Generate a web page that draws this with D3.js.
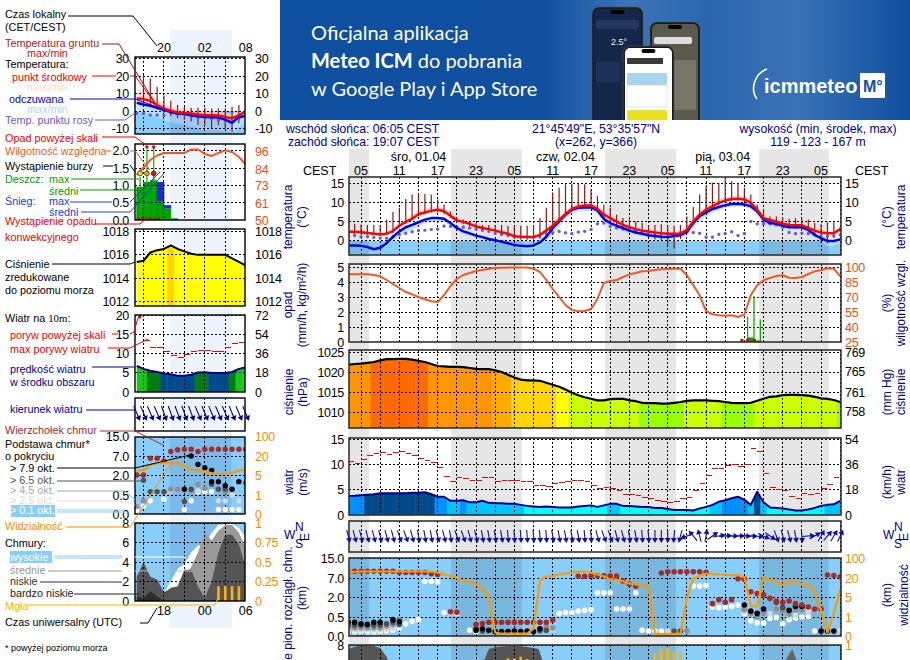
<!DOCTYPE html>
<html>
<head>
<meta charset="utf-8">
<script src="https://cdn.jsdelivr.net/npm/d3@7"></script>
<style>
html,body{margin:0;padding:0;background:#fff;overflow:hidden}
svg{display:block}
text{font-family:"Liberation Sans",Arial,sans-serif;font-size:12px}
.tick text{font-size:12.5px;fill:#000;letter-spacing:-.3px}
</style>
</head>
<body>
<div id="chart"></div>
<script>
// ---- right meteogram, hourly values, hours counted from 01.04 00:00 local
const hours = d3.range(3,81)
const tempMid = [2.4,2.4,2.3,2.1,1.9,1.7,1.9,2.6,4,5,5.8,7,7.5,7.9,8.2,7.8,6.6,5.4,5,4.5,3.8,3.4,3.1,2.7,2.3,1.9,1.2,1.1,1,1,1.6,2.7,4,5.5,7,8.4,9,9.3,9.3,8.4,6.9,6,5.1,4.2,3.6,3.1,2.7,2.5,2.2,2,1.9,1.9,1.9,2.9,5.1,6.9,8.2,9.1,10,10.6,11,11.1,10.9,10,8.2,6,5.5,5.1,4.5,4.2,4.1,4.1,3.4,2.7,2.2,2,2,3.1]
const tempFeels = [-1.2,-1.2,-1.3,-1.6,-2.2,-1.8,-.6,1.1,2.5,3.6,4.2,4.9,5.6,6,6,5.8,4.7,3.4,2.5,2,1.4,1,.5,.2,-.2,-.6,-1.1,-1.3,-1.4,-1.2,-.4,1.1,3.4,5.1,6.9,8.2,8.7,8.8,8.8,8,5.8,4.7,4,3.4,2.7,2.2,1.9,1.5,1.3,1.1,1,1.3,1.5,2.4,4.7,6.5,7.5,8.4,8.9,9.4,9.7,9.8,9.6,9.1,7.8,5.6,4.7,4.5,4,3.6,3.6,3.6,2.9,1.6,.7,0,0,.4]
const tempSpreadUp = [.3,.3,.3,.3,.3,.3,.4,.5,.7,.9,1,1,1,1,.9,.8,.8,.7,.6,.5,.4,.4,.3,.3,.3,.3,.3,.3,.3,.3,.3,.5,.7,.9,1,1,1,.9,.9,.8,.7,.6,.5,.4,.4,.3,.3,.3,.3,.3,.3,.3,.3,.4,.6,.8,.9,1,1,.9,.9,.9,.9,.8,.7,.5,.4,.4,.4,.3,.3,.3,.3,.3,.3,.3,.3,.4]
const tempSpreadDown = [.4,.4,.4,.4,.4,.4,.8,1,1.2,1.4,1.4,1.2,1,1,.9,.8,.8,.8,.8,.7,.7,.6,.6,.6,.6,.6,.6,.6,.6,.7,1,1.4,1.6,1.6,1.4,1.2,1,1,1,1,1,.9,.9,.8,.8,.7,.7,.7,.7,.7,.7,.6,.6,1,1.4,1.4,1.2,1,.9,.8,.7,.7,.7,.8,1,1,.9,.9,.8,.8,.7,.7,.8,1,1.2,1.4,1.3,1.1]
const dewPoint = [1.4,1.4,1.1,1.1,.9,.7,.7,1,1.6,2,2.4,2.7,2.8,3,3.1,3.9,3.8,3.6,3.6,3.4,3.1,2.8,2.5,2,1.7,1.4,1.2,1,1.1,1,1,1.7,2.1,2.5,2.1,1.9,2.3,2.5,3,4.5,4.7,3.8,3.4,3.1,2.7,2.5,2.5,2.2,2.2,2,2,1.9,2.2,2.4,2.2,2,1,1,1.7,1.9,2.4,1.4,1.9,5.1,4.5,4.5,4.5,4.2,3.6,2.2,1.9,2,1.9,1.6,1.2,1.2,1.3,1.6]
const groundMax = [4.5,4.5,4.3,4.2,4.2,4.2,5.6,7.6,8.7,11,12.2,12.5,12.3,12.2,10.9,9.6,7.8,6,5.6,5,4.7,4.2,4.2,4.2,4.2,3.9,3.8,4,4,4,6,8.7,12.7,14,14.9,14.9,15.3,14.9,13.6,11.8,9.6,8.7,6.9,6,5.6,5.1,4.7,4,4.2,4.4,4,4,4.2,6.4,8.9,12.2,14.4,15.3,15.3,16.6,15.7,15.3,14,12.2,9.6,8.4,6.4,6.4,6,5.8,6,5.8,5.6,4.7,4.4,4.9,4.9,3.8]
const groundMin = [1.8,1.8,1.8,1.6,1.4,1.2,1.5,2,3.5,4.5,5.5,6.5,7,7.5,7.5,7,6,5,4.4,3.8,3,2.5,2.2,1.8,1.4,1,.6,.4,.3,.3,1,2,3.4,5,6.5,7.8,8.5,8.7,8.7,7.8,6,5,4,3.4,2.6,2,1.5,.8,.4,.2,-1,-2,.5,2,4.5,6.4,7.6,8.6,9.4,10,10.4,10.6,10.3,9.4,7.6,5,4.6,4.2,3.6,3.4,3.2,3.2,2.6,1.6,-.5,-.6,.8,2.5]
const humidity = [92.7,92.7,92.7,92.7,92,90.7,87,83,79,75,72.7,70,67.7,65.7,65,72,81,88,92,94,96,97,98.3,99,99.3,99.5,99.5,99.5,99.5,98.3,95,87,78,70,62,57,55.7,56,58,68,84,86,87,90,92.7,94,95.7,96,97,97.7,98,98.3,98.3,91.7,81.7,71.7,56,52.7,51.7,51.3,51.7,50,52.7,71.7,81.7,86.7,89,91,91.7,89.3,89,90,93,95.7,96.7,98.7,98.3,90.7]
const rainHours = [65.5,66.5,67.5]
const rainMax = [1.7,3.07,1.5]
const rainMeanHours = [66,67]
const rainMean = [.3,.1]
const convectiveHours = [64.6,65.5,66.6]
const pressure = [1021.8,1022,1022.1,1022.3,1022.5,1022.9,1023.2,1023.2,1023.3,1023.3,1023.1,1022.8,1022.5,1022,1021.5,1021.4,1021.3,1021.3,1021.2,1021,1020.8,1020.7,1020.7,1020.4,1020,1019.3,1018.6,1018.1,1017.9,1017.9,1017.8,1017.3,1016.8,1016.3,1015.6,1014.8,1014.2,1013.7,1013.3,1012.9,1012.9,1013.2,1013.3,1013.3,1012.9,1012.7,1012.3,1012.2,1012.2,1012.1,1012.1,1012.3,1012.5,1012.8,1012.9,1012.9,1012.9,1012.8,1012.7,1012.5,1012.3,1012.2,1012.2,1012.3,1012.8,1013.3,1013.8,1013.9,1014.2,1014.3,1014.3,1014.2,1014.1,1013.8,1013.4,1013.3,1013,1012.5]
const windSpeed = [3.75,3.8,3.9,4,4.1,4.3,4.3,4.3,4.3,4.3,4.4,4.4,4.5,4.1,3.6,3.6,2.8,2.8,2.9,2.5,2.5,2.8,2.4,2.3,2.3,2.2,2.2,2,1.8,1.7,1.6,1.7,1.6,1.5,1.5,1.5,1.7,1.8,1.9,1.6,1.9,2.2,2.2,1.8,1.8,1.7,1.6,1.6,1.4,1.4,1.2,1,1,1,.9,1.3,1.6,2,2.6,2.9,3.3,3.6,3,2,4.6,2.5,1.5,1.4,1.3,1.1,.9,.9,1.1,1.4,1.8,2,2.1,2.8]
const windGust = [10.5,10.1,11,11.8,12.2,12.4,12,12.3,12.6,12.2,11.8,11.1,10.7,10.4,9.3,7.6,6.6,7.4,7.2,6.8,6.8,7.4,7.4,6.6,6.8,6.8,6.8,6.6,6.6,5.9,5.9,5.6,6.2,6.5,6.7,6.8,6.8,6.6,5.9,5.3,5.4,5.3,4.9,4.1,4.1,3.9,3.4,3.2,2.8,2.6,2.4,2.6,3.3,3.5,4.9,6.3,7.7,9.1,9.2,9.7,9.9,9.5,10,13.2,12.6,8.2,5.5,5.1,4.9,3.7,3.3,4.3,4.1,4.3,5.3,6.1,7.4]
const windBearing = [165,165,165,165,165,165,165,165,160,160,165,170,170,170,165,165,170,160,160,165,165,170,170,170,170,175,175,175,175,175,175,175,170,170,170,170,170,175,175,165,160,160,165,165,170,170,175,175,180,180,180,185,195,250,320,345,10,55,80,85,90,88,92,95,100,115,125,160,165,165,170,175,85,60,30,40,30,25]
const cloudTopHours = [3,4,5,6,7,8,9,10,11,12,13,14,15,16,17,19,20,23,24,25,26,27,28,29,30,31,32,33,34,35,39,40,41,42,43,44,45,46,47,48,52,53,54,55,56,57,58,59,60,61,62,63,64,65,66,67,68,69,70,71,72,73,74,75,76,77,78,79,80]
const cloudTop = [9.3,9.7,9.7,9.7,9.7,9.7,9.7,9.7,9.2,9.2,9.2,9.2,9.2,8.7,8.4,.89,.85,.31,.33,.36,.36,.36,.36,.36,.36,.36,.36,.36,.36,.42,7.7,7.7,7.8,7.9,7.9,7.8,7.8,6.2,5.4,4.9,9,9.5,9.5,9.5,9.5,9.5,9.5,9.3,1.5,1.8,1.6,1.8,6.8,6.7,3.4,2.9,2.6,1.9,1.7,1.6,1.7,1.5,1.4,1.25,1.1,1.1,8.2,8,7.5]
const baseBlack = [[3,.36],[4,.36],[5,.32],[6,.31],[7,.36],[8,.36],[10,.43],[11,.38],[23,.15],[24,.19],[25,.15],[26,.12],[27,.12],[28,.12],[29,.13],[30,.12],[31,.13],[32,.12],[33,.19],[65,1.4],[66,.94],[67,.77],[68,1.1],[72,1],[73,1.3],[74,1.3],[77,.13],[78,.13],[79,.13]]
const baseDark = [[3,.28],[4,.28],[5,.28],[6,.28],[7,.28],[8,.28],[9,.32],[10,.36],[11,.3],[23,.19],[24,.13],[54,.13],[55,.13],[70,1.6],[71,1.2],[33,.14],[34,.15]]
const baseGrey = [[3,.21],[4,.21],[5,.21],[6,.21],[7,.21],[8,.21],[9,.26],[10,.3],[11,.43],[34,.24],[35,.21],[56,.13],[65,1.05],[66,.75],[67,.5],[68,.8],[70,1.1],[73,1.05],[74,1.1],[71,.95],[72,.7]]
const baseLight = [[3,.16],[4,.16],[5,.16],[6,.16],[7,.16],[8,.16],[9,.18],[10,.2],[53,.13],[69,.75],[72,.55],[75,1.05],[75,.8],[35,.17],[65,.9],[73,.65],[80,.15]]
const baseWhite = [[3,.11],[4,.11],[5,.11],[6,.11],[7,.11],[8,.11],[9,.13],[10,.15],[11,.21],[12,.32],[13,.39],[14,.43],[15,6.15],[16,6.15],[17,6],[18,.84],[19,.84],[20,.77],[22,.15],[23,.12],[36,.77],[37,.84],[38,.84],[39,.94],[40,1],[41,1.05],[42,3.1],[43,3.1],[44,3.1],[45,1.1],[46,1.1],[47,1.1],[48,3.1],[49,.15],[50,.13],[51,.13],[52,.13],[57,4.9],[58,4.9],[59,5.1],[60,1.25],[61,1.2],[62,1.25],[63,1.3],[64,1.4],[65,.77],[66,.4],[67,.35],[68,.34],[69,.46],[70,.49],[71,.32],[72,.43],[73,.47],[74,.5],[75,.55],[76,.13]]
const visibility = [42,45,46,46,46,46,46,46,46,46,46,46,46,45,42,34,28,21,17.7,17,15.4,11.9,5,.18,.12,.12,.12,.12,.12,.39,18,27,28,34,38,43,45,45,42,34,27,18.7,18.7,17.5,15.7,15,14,13.6,.12,.1,.1,.1,.12,4.8,19.5,28,38,36,34,33,31,31,24,3.3,3.1,24,18.7,17,14.4,17,17,15,14.7,9,2.3,.18,1.7,11]
const lowCloudHours = [3,4,5,6,7,8,9,9.5,23,24.4,25,26,28,30,32,32.8,33.4,71.4,72.5,73.2]
const lowCloud = [7.6,7.8,8,8,7.9,7.7,6.8,6,6,6.6,7.6,7.8,7.9,7.9,7.7,7.6,6.4,6.4,7.6,6.4]
const fogHours = [28,29,30,31,51,52,53,54,55]
const fogValues = [.83,.83,.85,.82,.9,.95,.96,.92,.92]

// ---- left, short range column
const hoursL = d3.range(16,33)
const tempMidL = [7.3,6.9,5.8,3.5,1.5,.2,-.8,-1,-1.3,-1.9,-2.3,-2.3,-2.5,-3.3,-4.2,-2.3,-.4]
const tempFeelsL = [4.8,3.8,3.1,1.9,.6,-.6,-1.3,-1.7,-2.3,-2.9,-3.3,-3.5,-3.7,-4.8,-6.7,-3.3,-2.9]
const tempSpreadUpL = [5.5,5,4,3.5,2.5,2.2,2,2.5,2.8,2.6,2.4,2.2,2.2,2.4,2.5,2,1.4]
const tempSpreadDownL = [5,5,5.1,5.5,5.6,6,5.7,6.3,6.7,7.1,7.7,7.5,7.3,6.7,5.3,6,5]
const dewPointL = [-1.3,-1.3,-2.3,-2.3,-2.5,-1,-1.7,-1.7,-3.3,-3.8,-3.7,-4.2,-5.2,-5.6,-3.7,-4.2,null]
const groundMaxL = [null,20.8,18.8,14,9,6,3.5,2.5,2,2,2,1.5,1.5,1.5,2.5,3.5,2.5]
const groundMinL = [null,5,3,1,-1,-3,-4,-5,-6,-8,-8,-10,-8,-10,-12,-7,-2]
const humidityL = [80,85,90,93,94.7,94.7,94.7,94.7,97,97,94,92.7,94.7,96.4,95.3,92,87]
const rainMaxHoursL = [16.5,17.5,18.5]
const rainMaxL = [1.25,2.05,2.1]
const rainMeanHoursL = [16,17,18,19,20,21]
const rainMeanL = [.96,1.1,1.15,.53,.33,.05]
const snowMeanL = [0,0,0,.57,.1,0]
const stormColors = ["#ffe000","#ffa500","#e81010"]
const overScaleHoursL = [17.5,18.5]
const convectiveHoursL = [16.2,16.8,17.4,18,18.6,19.2]
const pressureL = [1015.4,1015.5,1016.2,1016.4,1016.5,1016.8,1016.5,1016.3,1016.1,1016,1016,1016,1016,1016,1015.7,1015.4,1015.1]
const windSpeedL = [6.8,6,5.5,5.2,4.8,4.6,4.2,4.2,4.5,5.05,5.1,4.95,4.95,4.95,5.2,6,6.4]
const windGustL = [13.5,11.6,11.5,10.5,9.6,8.9,9.8,10.6,10.9,10.9,10.6,10.6,11.6,12.7,12.9]
const windBearingL = [157,157,157,157,160,160,160,160,160,157,157,157,157,157,157,157,157]
const cloudTopHoursL = d3.range(16,33)
const cloudTopL = [2,2,6.4,6.4,5.6,8.8,9.5,9.7,9.7,8.8,9.7,9.7,9.7,9.7,9.7,9.7,9.7]
const baseBlackL = [[24,7],[25,4.8],[26,3.9],[27,3.2],[27,1.5],[28,1.5],[29,1.2],[30,.93],[31,1.5],[23,.93]]
const baseDarkL = [[17,1.6],[18,.75],[19,.75],[20,.75],[23,.33],[24,.93],[27,1.3],[28,.93],[29,.93],[32,1.4]]
const baseGreyL = [[16,.2],[17,.35],[21,.93],[22,.93],[25,1.3],[26,1],[24,.8],[29,.75]]
const baseLightL = [[16,.21],[21,.82],[25,.82],[28,.35],[29,.35],[30,.5],[31,.35]]
const baseWhiteL = [[16,.1],[17,.21],[18,.35],[20,.39],[23,.12],[24,.35],[25,.75],[26,.75],[27,.75],[28,.12],[29,.12],[30,.12],[31,.12]]
const visibilityL = [8.6,8.6,13,14.3,14.3,14.3,14.3,12.2,9.1,8.6,7.8,6.5,5.8,5.8,6.5,8.6,9.1]
const cloudHighL = [0,0,0,0,.8,2,3.3,3.8,5,5.7,5.7,7,7.8,7.9,7.9,7.5,6.5]
const cloudMidL = [0,0,0,0,.5,1.4,1.5,2.6,3.5,5,7,6.2,7.2,7.8,7.8,7,5.5]
const cloudLowL = [2.5,4,2.5,2.2,.9,1.3,1.5,3.2,3.2,1.5,.3,2,5,6.8,6.8,5.8,3.5]
const cloudVeryLowL = [.5,.3,1,.5,0,0,0,0,0,0,0,0,0,0,0,0,0]
const fogHoursL = [28,29,30,31]
const fogValuesL = [.19,.19,.19,.19]

// ---- tick labels
const tempTicks = [0,5,10,15]
const tempTicksL = [-10,0,10,20,30]
const rainTicks = [0,1,2,3,4,5]
const rhTicks = [25,40,55,70,85,100]
const rainTicksL = [0,.5,1,1.5,2]
const rhTicksL = [50,61,73,84,96]
const pressTicks = [1010,1015,1020,1025]
const mmHgTicks = [757.6,761.3,765.1,768.8]
const pressTicksL = [1012,1014,1016,1018]
const windTicks = [0,5,10,15]
const kmhTicks = [0,18,36,54]
const windTicksL = [0,5,10,15,20]
const kmhTicksL = [0,18,36,54,72]
const baseTicks = [0,.5,2,7,15]
const visTicks = [0,1,5,20,100]
const cloudTicksL = [0,2,4,6,8]
const cloudFracTicksL = [0,.25,.5,.75,1]
const gridHours = d3.range(5,81,3)
const gridHoursL = d3.range(17,33,3)
const hourLabels = ["05","11","17","23","05","11","17","23","05","11","17","23","05"]
const hourLabelAt = d3.range(5,78,6)
const dayLabels = ["śro, 01.04","czw, 02.04","pią, 03.04"]
const dayLabelAt = [14,37,61.6]
const nightBands = [[3.12,6.25],[19.1,30.2],[43.2,54.3],[67.3,78.2]]
const nightBandL = [[20.85,29.9]]

const svg = d3.select("#chart").append("svg").attr("width",910).attr("height",660)
const defs = svg.append("defs")

// ---- shared colours for the step fills
const pressColor = d3.scaleThreshold()
	.domain([1012.6,1015,1016.7,1019,1020.6,1022.45])
	.range(["#99ff00","#ccff00","#ffff00","#ffd500","#ffaa00","#ff9500","#ff6a00"])
const windColor = d3.scaleThreshold()
	.domain([2,2.85,4,5,6])
	.range(["#00ffff","#00c4ff","#0090ff","#004a8c","#007c14","#14c814"])
const SKY = "#87cefa"
const NAVY = "#00008b"

// ---- banner
const grad = defs.append("linearGradient").attr("id","bannerGrad")
;[[0,"#0f4fa0"],[.42,"#10509f"],[.55,"#3b74b8"],[.68,"#2c66ae"],[.82,"#3a72b5"],[1,"#104f9f"]].forEach(s=>{
	grad.append("stop").attr("offset",s[0]).attr("stop-color",s[1])
})
const banner = svg.append("g")
banner.append("rect").attr("x",280).attr("y",0).attr("width",630).attr("height",120).attr("fill","url(#bannerGrad)")
const bannerClip = defs.append("clipPath").attr("id","bannerClip")
bannerClip.append("rect").attr("x",280).attr("y",0).attr("width",630).attr("height",120)
banner.attr("clip-path","url(#bannerClip)")
const bannerLine = (y)=>banner.append("text").attr("x",311).attr("y",y).style("font-family","Lato").style("font-size","20px").attr("fill","#fff")
bannerLine(40).text("Oficjalna aplikacja")
const second = bannerLine(68)
second.append("tspan").style("font-weight","700").text("Meteo ICM")
second.append("tspan").text(" do pobrania")
bannerLine(96).text("w Google Play i App Store")

function phone(x,y,w,h,screen){
	banner.append("rect").attr("x",x).attr("y",y).attr("width",w).attr("height",h).attr("rx",7).attr("fill","#1b1b1b").attr("stroke","#555").attr("stroke-width",.6)
	banner.append("rect").attr("x",x+2).attr("y",y+2).attr("width",w-4).attr("height",h-2).attr("rx",5).attr("fill",screen)
	banner.append("rect").attr("x",x+w/2-7).attr("y",y+3).attr("width",14).attr("height",4).attr("rx",2).attr("fill","#000")
}
phone(592,7,51,120,"#14264a")
phone(650,22,50,105,"#5b5a4c")
banner.append("text").attr("x",611).attr("y",45).attr("fill","#cfe").style("font-size","9px").text("2.5°")
banner.append("rect").attr("x",596).attr("y",20).attr("width",43).attr("height",9).attr("rx",2).attr("fill","#24375c")
banner.append("rect").attr("x",596).attr("y",62).attr("width",24).attr("height",20).attr("fill","#1f3157")
banner.append("rect").attr("x",654).attr("y",37).attr("width",38).attr("height",7).attr("rx",2).attr("fill","#ddd")
banner.append("rect").attr("x",672).attr("y",60).attr("width",24).attr("height",50).attr("fill","#777663")
phone(623,46,51,80,"#fff")
banner.append("rect").attr("x",627).attr("y",58).attr("width",36).attr("height",6).attr("fill","#3a3a3a")
banner.append("rect").attr("x",627).attr("y",73).attr("width",40).attr("height",12).attr("fill","#a8d4f0")
banner.append("rect").attr("x",627).attr("y",85).attr("width",40).attr("height",22).attr("fill","#fff").attr("stroke","#ccc").attr("stroke-width",.5)
banner.append("rect").attr("x",627).attr("y",110).attr("width",40).attr("height",10).attr("fill","#e8e020")
banner.append("path").attr("d","M767 69 C754 74 750 90 757 99").attr("fill","none").attr("stroke","#fff").attr("stroke-width",1.6)
banner.append("text").attr("x",764).attr("y",93).attr("fill","#fff").style("font-size","20px").style("font-weight","700").text("icmmeteo")
banner.append("rect").attr("x",860).attr("y",73).attr("width",25).attr("height",25).attr("rx",1).attr("fill","#fff")
banner.append("text").attr("x",863).attr("y",92).attr("fill","#10509f").style("font-size","16px").style("font-weight","700").text("M°")

// ---- shaded night time behind each column
svg.append("rect").attr("x",170).attr("y",30).attr("width",62).attr("height",598).attr("fill","#eef4fd")

const right = {
	x: d3.scaleLinear().domain([3.12,80.12]).range([349,841]),
	id: "r", left: 349, right: 841, padL: 5, padR: 4, bands: nightBands, shade: "rgba(0,0,0,.1)",
	dotR: 2.8, grid: gridHours, arrow: 6, frame: "#333", frameW: 1.6
}
const left = {
	x: d3.scaleLinear().domain([15.75,31.9]).range([135,245]),
	id: "l", left: 135, right: 245, padL: 6, padR: 10, bands: nightBandL, shade: "rgba(0,0,90,.09)",
	dotR: 2.7, grid: gridHoursL, arrow: 7.5, frame: "#000", frameW: 1.4
}
nightBands.forEach(b=>{
	svg.append("rect").attr("x",right.x(b[0])).attr("y",149)
		.attr("width",right.x(b[1])-right.x(b[0])).attr("height",511).attr("fill","#e6e6e6")
})

// ---- panel helpers
function panel(side,name,top,bottom){
	const clip = `${side.id}-${name}`
	defs.append("clipPath").attr("id",clip).append("rect")
		.attr("x",side.left).attr("y",top).attr("width",side.right-side.left).attr("height",bottom-top)
	const g = svg.append("g")
	const marks = g.append("g").attr("clip-path",`url(#${clip})`)
	return {g,marks,top,bottom,side}
}
function nightShade(p,y0,y1){
	p.side.bands.forEach(b=>{
		p.marks.append("rect").attr("x",p.side.x(b[0])).attr("y",y0)
			.attr("width",p.side.x(b[1])-p.side.x(b[0])).attr("height",y1-y0).attr("fill",p.side.shade)
	})
}
function grid(p,ys){
	const s = p.side
	const grp = p.marks.append("g").attr("stroke","#000").attr("stroke-width",1).attr("stroke-dasharray","2,2").attr("shape-rendering","crispEdges")
	grp.selectAll(".v").data(s.grid).enter().append("line")
		.attr("x1",d=>s.x(d)).attr("x2",d=>s.x(d)).attr("y1",p.top).attr("y2",p.bottom)
	grp.selectAll(".h").data(ys).enter().append("line")
		.attr("x1",s.left).attr("x2",s.right).attr("y1",d=>d).attr("y2",d=>d)
}
function frame(p,height){
	const s = p.side
	p.g.append("rect").attr("x",s.left).attr("y",p.top).attr("width",s.right-s.left).attr("height",height||p.bottom-p.top)
		.attr("fill","none").attr("stroke",s.frame).attr("stroke-width",s.frameW)
}
function axes(p,yL,ticksL,fmtL,yR,ticksR,fmtR,colorR){
	const s = p.side
	if(ticksL){
		const a = p.g.append("g").attr("transform",`translate(${s.left},0)`)
			.call(d3.axisLeft(yL).tickValues(ticksL).tickSize(0).tickPadding(s.padL).tickFormat(fmtL||(d=>d)))
		a.select(".domain").remove()
	}
	if(ticksR){
		const a = p.g.append("g").attr("transform",`translate(${s.right},0)`)
			.call(d3.axisRight(yR).tickValues(ticksR).tickSize(0).tickPadding(s.padR).tickFormat(fmtR||(d=>d)))
		a.select(".domain").remove()
		if(colorR) a.selectAll("text").style("fill",colorR)
	}
}
const lineOf = (p,xs,y,color,w)=>{
	const path = d3.line().defined(d=>d[1]!==null).x(d=>p.side.x(d[0])).y(d=>y(d[1]))
	p.marks.append("path").datum(xs).attr("d",path).attr("fill","none").attr("stroke",color).attr("stroke-width",w).attr("stroke-linejoin","round")
}
const zip = (a,b)=>a.map((d,i)=>[d,b[i]])

function drawTemp(side,y,hrs,mid,feels,up,down,dew,gMax,gMin,ticks,ticksR){
	const p = panel(side,"temp",y.range()[0]>0?y.range()[1]:0,y.range()[0])
	const X = side.x
	p.marks.append("rect").attr("x",side.left).attr("y",y(0)).attr("width",side.right-side.left).attr("height",p.bottom-y(0)).attr("fill",SKY)
	p.marks.append("path").datum(hrs.map((h,i)=>i))
		.attr("d",d3.area().x(i=>X(hrs[i])).y0(i=>y(mid[i]-up[i]*.4)).y1(i=>y(mid[i]+up[i]))).attr("fill","#ffdcd6")
	p.marks.append("path").datum(hrs.map((h,i)=>i))
		.attr("d",d3.area().x(i=>X(hrs[i])).y0(i=>y(feels[i]-down[i])).y1(i=>y(feels[i]+.3))).attr("fill","#b6e2fb").attr("fill-opacity",.85)
	nightShade(p,y(0),p.bottom)
	grid(p,ticks.map(y))
	p.marks.selectAll(".ground").data(hrs.map((h,i)=>i).filter(i=>gMax[i]!==null)).enter().append("line")
		.attr("x1",i=>X(hrs[i])).attr("x2",i=>X(hrs[i])).attr("y1",i=>y(gMin[i])).attr("y2",i=>y(gMax[i]))
		.attr("stroke","#8b1a1a").attr("stroke-width",1.2)
	p.marks.selectAll(".dew").data(hrs.map((h,i)=>i).filter(i=>dew[i]!==null)).enter().append("rect")
		.attr("x",i=>X(hrs[i])-1.6).attr("y",i=>y(dew[i])-1.6).attr("width",3.2).attr("height",3.2).attr("rx",1.4)
		.attr("fill","#6a5acd")
	lineOf(p,zip(hrs,feels),y,"#0000f0",2.5)
	lineOf(p,zip(hrs,mid),y,"#ff0000",2.5)
	frame(p)
	axes(p,y,ticks,null,y,ticksR||ticks)
}

function stepFill(p,hrs,vals,y,color,base){
	const s = p.side, cid = `${s.id}-${p.name}-area`
	defs.append("clipPath").attr("id",cid).append("path").datum(hrs.map((h,i)=>i))
		.attr("d",d3.area().x(i=>s.x(hrs[i])).y0(base).y1(i=>y(vals[i])))
	const step = s.x(hrs[1])-s.x(hrs[0])
	p.marks.append("g").attr("clip-path",`url(#${cid})`)
		.selectAll("rect").data(hrs.map((h,i)=>i)).enter().append("rect")
		.attr("x",i=>s.x(hrs[i])-step/2).attr("y",p.top).attr("width",step+.5).attr("height",base-p.top)
		.attr("fill",i=>color(vals[i]))
}

function drawArrows(p,hrs,bearing,cy,color){
	const s = p.side, len = s.arrow
	const a = p.g.selectAll(".arrow").data(hrs.map((h,i)=>i)).enter().append("g")
		.attr("transform",i=>`translate(${s.x(hrs[i])},${cy}) rotate(${bearing[i]})`)
	a.append("line").attr("y1",len).attr("y2",-len+2).attr("stroke",color).attr("stroke-width",1.1)
	a.append("path").attr("d",`M0,${-len-1}L3,${-len+4}L-3,${-len+4}Z`).attr("fill",color)
}

function drawBases(p,y,hrs,tops,levels){
	const s = p.side
	levels.forEach(l=>{
		p.marks.append("g").selectAll("circle").data(l.data).enter().append("circle")
			.attr("cx",d=>s.x(d[0])).attr("cy",d=>y(d[1])).attr("r",s.dotR).attr("fill",l.color)
	})
	p.marks.append("g").selectAll("circle").data(zip(hrs,tops)).enter().append("circle")
		.attr("cx",d=>s.x(d[0])).attr("cy",d=>y(d[1])).attr("r",s.dotR).attr("fill","#a52a2a")
}

// ---- right column panels
const yTemp = d3.scaleLinear().domain([-3.7,16.8]).range([255,177])
drawTemp(right,yTemp,hours,tempMid,tempFeels,tempSpreadUp,tempSpreadDown,dewPoint,groundMax,groundMin,tempTicks)

const yRain = d3.scaleLinear().domain([0,5.2]).range([342,264])
const yRh = d3.scaleLinear().domain([25,103]).range([342,264])
{
	const p = panel(right,"rain",264,342)
	grid(p,rainTicks.map(yRain))
	lineOf(p,zip(hours,humidity),yRh,"#ee5a24",2)
	p.marks.selectAll(".max").data(zip(rainHours,rainMax)).enter().append("line")
		.attr("x1",d=>right.x(d[0])).attr("x2",d=>right.x(d[0])).attr("y1",342).attr("y2",d=>yRain(d[1]))
		.attr("stroke","#00b400").attr("stroke-width",1.3)
	p.marks.selectAll(".mean").data(zip(rainMeanHours,rainMean)).enter().append("rect")
		.attr("x",d=>right.x(d[0])-3.2).attr("width",6.4).attr("y",d=>yRain(d[1])).attr("height",d=>342-yRain(d[1]))
		.attr("fill","#00a000")
	p.marks.selectAll(".conv").data(convectiveHours).enter().append("rect")
		.attr("x",d=>right.x(d)-1.5).attr("y",339).attr("width",3).attr("height",3).attr("fill","#e00000")
	frame(p)
	axes(p,yRain,rainTicks,null,yRh,rhTicks,null,"#e8501c")
}

const yPress = d3.scaleLinear().domain([1006,1025.5]).range([428,350])
const yMm = d3.scaleLinear().domain([1006*.75006,1025.5*.75006]).range([428,350])
{
	const p = panel(right,"press",350,428); p.name = "press"
	stepFill(p,hours,pressure,yPress,pressColor,428)
	grid(p,pressTicks.map(yPress))
	lineOf(p,zip(hours,pressure),yPress,"#000",2.2)
	frame(p)
	axes(p,yPress,pressTicks,null,yMm,mmHgTicks,d3.format(".0f"))
}

const yWind = d3.scaleLinear().domain([0,15.2]).range([515,438])
const yKmh = d3.scaleLinear().domain([0,15.2*3.6]).range([515,438])
{
	const p = panel(right,"wind",438,515); p.name = "wind"
	stepFill(p,hours,windSpeed,yWind,windColor,515)
	grid(p,windTicks.map(yWind))
	lineOf(p,zip(hours,windSpeed),yWind,NAVY,2)
	p.marks.selectAll(".gust").data(windGust).enter().append("line")
		.attr("x1",(d,i)=>right.x(hours[i])).attr("x2",(d,i)=>right.x(hours[i]+1)-.8)
		.attr("y1",d=>yWind(d)).attr("y2",d=>yWind(d)).attr("stroke","#f00000").attr("stroke-width",1).attr("shape-rendering","crispEdges")
	frame(p)
	axes(p,yWind,windTicks,null,yKmh,kmhTicks)
}

{
	const p = panel(right,"dir",521,552)
	grid(p,[])
	frame(p)
	drawArrows(p,hours,windBearing,536,"#1010a0")
}

const yBase = d3.scaleLinear().domain(baseTicks).range([636,617,597,578,558])
const yVis = d3.scaleLinear().domain(visTicks).range([636,617,597,578,558])
{
	const p = panel(right,"base",558,636)
	p.marks.append("rect").attr("x",349).attr("y",558).attr("width",492).attr("height",78).attr("fill",SKY)
	nightShade(p,558,636)
	grid(p,baseTicks.map(yBase))
	drawBases(p,yBase,cloudTopHours,cloudTop,[
		{data:baseWhite,color:"#fff"},{data:baseLight,color:"#d8d8d8"},{data:baseGrey,color:"#909090"},
		{data:baseDark,color:"#505050"},{data:baseBlack,color:"#000"}])
	lineOf(p,zip(hours,visibility),yVis,"#ff9900",2.2)
	frame(p)
	axes(p,yBase,baseTicks,d3.format(".1f"),yVis,visTicks,null,"#ff8c00")
}

const yCloud = d3.scaleLinear().domain([0,8]).range([723,645])
const yFog = d3.scaleLinear().domain([0,1]).range([723,645])
{
	const p = panel(right,"cloud",645,723)
	p.marks.append("rect").attr("x",349).attr("y",645).attr("width",492).attr("height",78).attr("fill",SKY)
	nightShade(p,645,723)
	p.marks.append("path").datum(zip(lowCloudHours.slice(0,8),lowCloud.slice(0,8)))
		.attr("d",d3.area().x(d=>right.x(d[0])).y0(723).y1(d=>yCloud(d[1]))).attr("fill","#555")
	p.marks.append("path").datum(zip(lowCloudHours.slice(8,17),lowCloud.slice(8,17)))
		.attr("d",d3.area().x(d=>right.x(d[0])).y0(723).y1(d=>yCloud(d[1]))).attr("fill","#555")
	p.marks.append("path").datum(zip(lowCloudHours.slice(17),lowCloud.slice(17)))
		.attr("d",d3.area().x(d=>right.x(d[0])).y0(723).y1(d=>yCloud(d[1]))).attr("fill","#666")
	grid(p,[yCloud(8)])
	p.marks.selectAll(".fog").data(zip(fogHours,fogValues)).enter().append("rect")
		.attr("x",d=>right.x(d[0])-1.3).attr("width",2.6).attr("y",d=>yFog(d[1])).attr("height",d=>723-yFog(d[1])).attr("fill","#ffb400")
	frame(p)
	axes(p,yCloud,[8],null,yFog,[1],null,"#ff8c00")
}

// ---- left column panels
const yTempL = d3.scaleLinear().domain([-13.1,31]).range([134,57])
drawTemp(left,yTempL,hoursL,tempMidL,tempFeelsL,tempSpreadUpL,tempSpreadDownL,dewPointL,groundMaxL,groundMinL,tempTicksL)

const yRainL = d3.scaleLinear().domain([0,2.2]).range([220,144])
const yRhL = d3.scaleLinear().domain([50,96]).range([220,151])
{
	const p = panel(left,"rain",144,220)
	p.marks.selectAll(".mean").data(zip(rainMeanHoursL,rainMeanL)).enter().append("rect")
		.attr("x",d=>left.x(d[0])-.4).attr("width",left.x(1)-left.x(0)+.8).attr("y",d=>yRainL(d[1])).attr("height",d=>220-yRainL(d[1]))
		.attr("fill","#00a000")
	p.marks.selectAll(".snow").data(rainMeanHoursL.map((h,i)=>i)).enter().append("rect")
		.attr("x",i=>left.x(rainMeanHoursL[i])-.4).attr("width",left.x(1)-left.x(0)+.8)
		.attr("y",i=>yRainL(rainMeanL[i]+snowMeanL[i])).attr("height",i=>yRainL(rainMeanL[i])-yRainL(rainMeanL[i]+snowMeanL[i]))
		.attr("fill","#1a2fc8")
	grid(p,rainTicksL.map(yRainL))
	p.marks.selectAll(".max").data(zip(rainMaxHoursL,rainMaxL)).enter().append("line")
		.attr("x1",d=>left.x(d[0])).attr("x2",d=>left.x(d[0])).attr("y1",220).attr("y2",d=>yRainL(d[1]))
		.attr("stroke","#00b400").attr("stroke-width",1.2)
	lineOf(p,zip(hoursL,humidityL),yRhL,"#ee5a24",2)
	p.marks.selectAll(".storm").data(zip(rainMaxHoursL,stormColors)).enter().append("circle")
		.attr("cx",d=>left.x(d[0])).attr("cy",yRainL(1.35)).attr("r",2.4).attr("fill",d=>d[1]).attr("stroke","#000").attr("stroke-width",.6)
	p.marks.selectAll(".over").data(overScaleHoursL).enter().append("rect")
		.attr("x",d=>left.x(d)-1.5).attr("y",145.5).attr("width",3).attr("height",3).attr("fill","#e00000")
	p.marks.selectAll(".conv").data(convectiveHoursL).enter().append("rect")
		.attr("x",d=>left.x(d)-1.3).attr("y",217.5).attr("width",2.6).attr("height",2.5).attr("fill","#e00000")
	frame(p)
	axes(p,yRainL,rainTicksL,d3.format(".1f"),yRhL,rhTicksL,null,"#e8501c")
}

const yPressL = d3.scaleLinear().domain([1011.65,1018.2]).range([306,229])
{
	const p = panel(left,"press",229,306); p.name = "press"
	stepFill(p,hoursL,pressureL,yPressL,pressColor,306)
	grid(p,pressTicksL.map(yPressL))
	lineOf(p,zip(hoursL,pressureL),yPressL,"#000",2)
	frame(p)
	axes(p,yPressL,pressTicksL,null,yPressL,pressTicksL)
}

const yWindL = d3.scaleLinear().domain([0,20]).range([392,315])
const yKmhL = d3.scaleLinear().domain([0,72]).range([392,315])
{
	const p = panel(left,"wind",315,392); p.name = "wind"
	stepFill(p,hoursL,windSpeedL,yWindL,windColor,392)
	grid(p,windTicksL.map(yWindL))
	lineOf(p,zip(hoursL,windSpeedL),yWindL,NAVY,2)
	p.marks.selectAll(".gust").data(windGustL).enter().append("line")
		.attr("x1",(d,i)=>left.x(17+i)).attr("x2",(d,i)=>left.x(18+i)-.8)
		.attr("y1",d=>yWindL(d)).attr("y2",d=>yWindL(d)).attr("stroke","#f00000").attr("stroke-width",1).attr("shape-rendering","crispEdges")
	p.marks.append("rect").attr("x",left.x(16.2)).attr("y",yWindL(19.9)).attr("width",3).attr("height",3).attr("fill","#f00000")
	frame(p)
	axes(p,yWindL,windTicksL,null,yKmhL,kmhTicksL)
}

{
	const p = panel(left,"dir",398,431)
	grid(p,[])
	frame(p)
	drawArrows(p,hoursL,windBearingL,413,"#00008b")
}

const yBaseL = d3.scaleLinear().domain(baseTicks).range([514,495,475,456,436])
const yVisL = d3.scaleLinear().domain(visTicks).range([514,495,475,456,436])
{
	const p = panel(left,"base",437,514)
	p.marks.append("rect").attr("x",135).attr("y",437).attr("width",110).attr("height",77).attr("fill",SKY)
	nightShade(p,437,514)
	grid(p,baseTicks.map(yBaseL))
	drawBases(p,yBaseL,cloudTopHoursL,cloudTopL,[
		{data:baseWhiteL,color:"#fff"},{data:baseLightL,color:"#d8d8d8"},{data:baseGreyL,color:"#909090"},
		{data:baseDarkL,color:"#505050"},{data:baseBlackL,color:"#000"}])
	lineOf(p,zip(hoursL,visibilityL),yVisL,"#ff9900",2.2)
	frame(p)
	axes(p,yBaseL,baseTicks,d3.format(".1f"),yVisL,visTicks,null,"#ff8c00")
}

const yCloudL = d3.scaleLinear().domain([0,8]).range([601,523])
const yFogL = d3.scaleLinear().domain([0,1]).range([601,523])
{
	const p = panel(left,"cloud",523,601)
	p.marks.append("rect").attr("x",135).attr("y",523).attr("width",110).attr("height",78).attr("fill",SKY)
	nightShade(p,523,601)
	const layer = (vals,color)=>p.marks.append("path").datum(zip(hoursL,vals))
		.attr("d",d3.area().x(d=>left.x(d[0])).y0(601).y1(d=>yCloudL(d[1]))).attr("fill",color)
	layer(cloudHighL,"#fff")
	layer(cloudMidL,"#9a9a9a")
	layer(cloudLowL,"#555")
	layer(cloudVeryLowL,"#2e2e2e")
	grid(p,cloudTicksL.map(yCloudL))
	p.marks.selectAll(".fog").data(zip(fogHoursL,fogValuesL)).enter().append("rect")
		.attr("x",d=>left.x(d[0])-1.3).attr("width",2.6).attr("y",d=>yFogL(d[1])).attr("height",d=>601-yFogL(d[1])).attr("fill","#ffb400")
	frame(p)
	axes(p,yCloudL,cloudTicksL,null,yFogL,cloudFracTicksL,null,"#ff8c00")
}

// ---- text
const LEGEND = 10.8
function label(txt,x,y,color,opts){
	const t = svg.append("text").attr("x",x).attr("y",y).attr("fill",color||"#000").text(txt)
		.style("font-size",((opts&&opts.size)||LEGEND)+"px")
	if(opts&&opts.anchor) t.attr("text-anchor",opts.anchor)
	if(opts&&opts.weight) t.style("font-weight",opts.weight)
	return t
}
function wire(points,color){
	svg.append("path").attr("d",d3.line()(points)).attr("fill","none").attr("stroke",color).attr("stroke-width",1)
}
function sideLabel(txt,x,yc,opts){
	svg.append("text").attr("transform",`translate(${x},${yc}) rotate(-90)`)
		.attr("text-anchor",(opts&&opts.anchor)||"middle").attr("dominant-baseline","middle")
		.attr("fill",NAVY).style("font-size","12px").text(txt)
}

// time labels, left column
;[["20",20],["02",26],["08",32]].forEach(d=>label(d[0],left.x(d[1]),52,"#000",{anchor:"middle",size:12.5}))
;[["18",20],["00",26],["06",32]].forEach(d=>label(d[0],left.x(d[1]),615,"#000",{anchor:"middle",size:12.5}))

// header, right column
label("wschód słońca: 06:05 CEST",286,133,NAVY,{size:12.2})
label("zachód słońca: 19:07 CEST",288,146,NAVY,{size:12.2})
label("21°45'49\"E, 53°35'57\"N",596,133,NAVY,{anchor:"middle",size:12.2})
label("(x=262,  y=366)",596,146,NAVY,{anchor:"middle",size:12.2})
label("wysokość (min, środek, max)",818,133,NAVY,{anchor:"middle",size:12.2})
label("119 - 123 - 167 m",818,146,NAVY,{anchor:"middle",size:12.2})
dayLabels.forEach((d,i)=>label(d,right.x(dayLabelAt[i]),161,"#000",{anchor:"middle",size:12.5}))
hourLabels.forEach((d,i)=>label(d,right.x(hourLabelAt[i]),175,"#000",{anchor:"middle",size:12.5}))
label("CEST",303,175,"#000",{size:12.5})
label("CEST",855,175,"#000",{size:12.5})

sideLabel("temperatura",289,217); sideLabel("(°C)",303,217)
sideLabel("opad",289,305); sideLabel("(mm/h, kg/m²/h)",303,305)
sideLabel("ciśnienie",290,392); sideLabel("(hPa)",304,392)
sideLabel("wiatr",290,482); sideLabel("(m/s)",304,482)
sideLabel("pion. rozciągł. chm.",289,598); sideLabel("(km)",303,598)
sideLabel("pokrycie",289,653,{anchor:"end"})
sideLabel("temperatura",902,217); sideLabel("(°C)",888,217)
sideLabel("wilgotność wzgl.",902,303); sideLabel("(%)",888,303)
sideLabel("ciśnienie",902,392); sideLabel("(mm Hg)",888,392)
sideLabel("wiatr",902,482); sideLabel("(km/h)",888,482)
sideLabel("widzialność",905,595); sideLabel("(km)",888,595)
// wind rose letters
;[[295,284],[894,883]].forEach(c=>{
	label("N",c[0],531,NAVY,{size:12})
	label("W",c[1],539,NAVY,{size:12})
	label("S",c[0],548,NAVY,{size:12})
	svg.append("text").attr("transform",`translate(${c[0]+14},541) rotate(-90)`).attr("fill",NAVY).style("font-size","12px").text("E")
})

// legend of the left column, with its leader lines
const BROWN = "#b22222", RED = "#f00000", ORANGE = "#ee5a24", GREEN = "#00a000", BLUE = "#2040d0", PURPLE = "#6a5acd"
label("Czas lokalny",5,18); label("(CET/CEST)",5,31)
wire([[68,16],[133,16],[157,46]],"#000")
label("Temperatura gruntu",5,47,BROWN); label("max/min",27,57,BROWN)
wire([[102,44],[119,44],[155,103]],"#8b1a1a")
label("Temperatura:",5,68)
label("punkt środkowy",12,81,RED)
wire([[92,76],[116,76]],RED); wire([[130,76],[135,76],[155,103]],RED)
label("max/min",27,91,"#ffd8c8")
label("odczuwana",9,103,"#0000e0")
wire([[70,99],[135,99],[165,110]],"#0000e0")
label("max/min",27,113,"#a8d8f8")
label("Temp. punktu rosy",5,124,PURPLE)
wire([[95,120],[125,120],[135,113]],PURPLE)
label("Opad powyżej skali",5,142,RED)
wire([[102,137],[135,137],[146,145]],RED)
label("Wilgotność względna",5,155,ORANGE)
wire([[106,151],[111,151]],ORANGE); wire([[130,151],[135,151],[150,170]],ORANGE)
label("Wystąpienie burzy",5,170)
wire([[103,166],[113,166]],"#000"); wire([[130,165],[135,172]],"#000")
label("Deszcz:",5,183,GREEN); label("max",49,183,GREEN); label("średni",49,195,GREEN)
wire([[71,179],[139,179]],GREEN); wire([[80,190],[143,190]],GREEN)
label("Śnieg:",5,205,BLUE); label("max",49,205,BLUE); label("średni",49,216,BLUE)
wire([[70,202],[112,202]],BLUE); wire([[130,202],[160,172]],BLUE); wire([[81,212],[130,212],[165,172]],BLUE)
label("Wystąpienie opadu",5,225,RED); label("konwekcyjnego",5,241,RED)
wire([[95,224],[140,224],[147,218]],RED)
label("Ciśnienie",5,268); label("zredukowane",5,281); label("do poziomu morza",5,294)
wire([[52,264],[130,264],[135,262]],"#000")
const windTitle = label("Wiatr na ",5,322)
windTitle.append("tspan").style("font-family","Liberation Serif").text("10m")
windTitle.append("tspan").text(":")
label("poryw powyżej skali",10,339,RED)
wire([[112,334],[118,334]],RED); wire([[130,334],[134,332],[138,318]],RED)
label("max porywy wiatru",10,353,RED)
wire([[108,348],[130,348],[148,339]],RED)
label("prędkość wiatru",10,373,"#000099"); label("w środku obszaru",10,386,"#000099")
wire([[92,367],[135,367]],"#000099")
label("kierunek wiatru",10,413,"#000099")
wire([[86,410],[135,410]],"#000099")
label("Wierzchołek chmur",5,434,"#a52a2a")
wire([[100,431],[135,431],[163,445]],"#a52a2a")
label("Podstawa chmur*",5,448); label("o pokryciu",5,460)
label("> 7.9 okt.",10,472)
wire([[57,468],[135,468],[190,455]],"#000")
label("> 6.5 okt.",10,484,"#555")
wire([[57,481],[143,481]],"#555")
label("> 4.5 okt.",10,494,"#aaa")
wire([[57,491],[125,491],[135,500]],"#aaa")
label("> 2.5 okt.",10,504,"#ddd")
wire([[57,501],[125,501],[135,505]],"#ddd")
svg.append("rect").attr("x",11).attr("y",505).attr("width",44).attr("height",12).attr("fill",SKY)
label("> 0.1 okt.",10,514,"#fff")
wire([[57,510],[125,510]],SKY); wire([[57,512],[125,512]],SKY)
label("Widzialność",5,530,"#ff8c00")
wire([[66,527],[130,527],[172,462]],"#ff8c00")
label("Chmury:",5,547)
svg.append("rect").attr("x",10).attr("y",551).attr("width",42).attr("height",12).attr("fill",SKY)
label("wysokie",10,561,"#fff")
wire([[54,556],[122,556]],SKY); wire([[54,558],[122,558]],SKY)
wire([[135,557],[186,557]],"#fff")
label("średnie",10,574,"#999")
wire([[48,571],[122,571]],"#999"); wire([[135,571],[192,571]],"#bbb")
label("niskie",10,585,"#333")
wire([[40,582],[122,582]],"#333")
label("bardzo niskie",10,597,"#222")
wire([[74,594],[140,594]],"#222")
label("Mgła",5,610,"#ffb400")
wire([[28,605],[215,605],[219,595]],"#ffb400")
label("Czas uniwersalny (UTC)",5,626)
wire([[140,623],[148,623],[157,608]],"#000")
label("* powyżej poziomu morza",5,651,"#000",{size:9})
</script>
</body>
</html>
